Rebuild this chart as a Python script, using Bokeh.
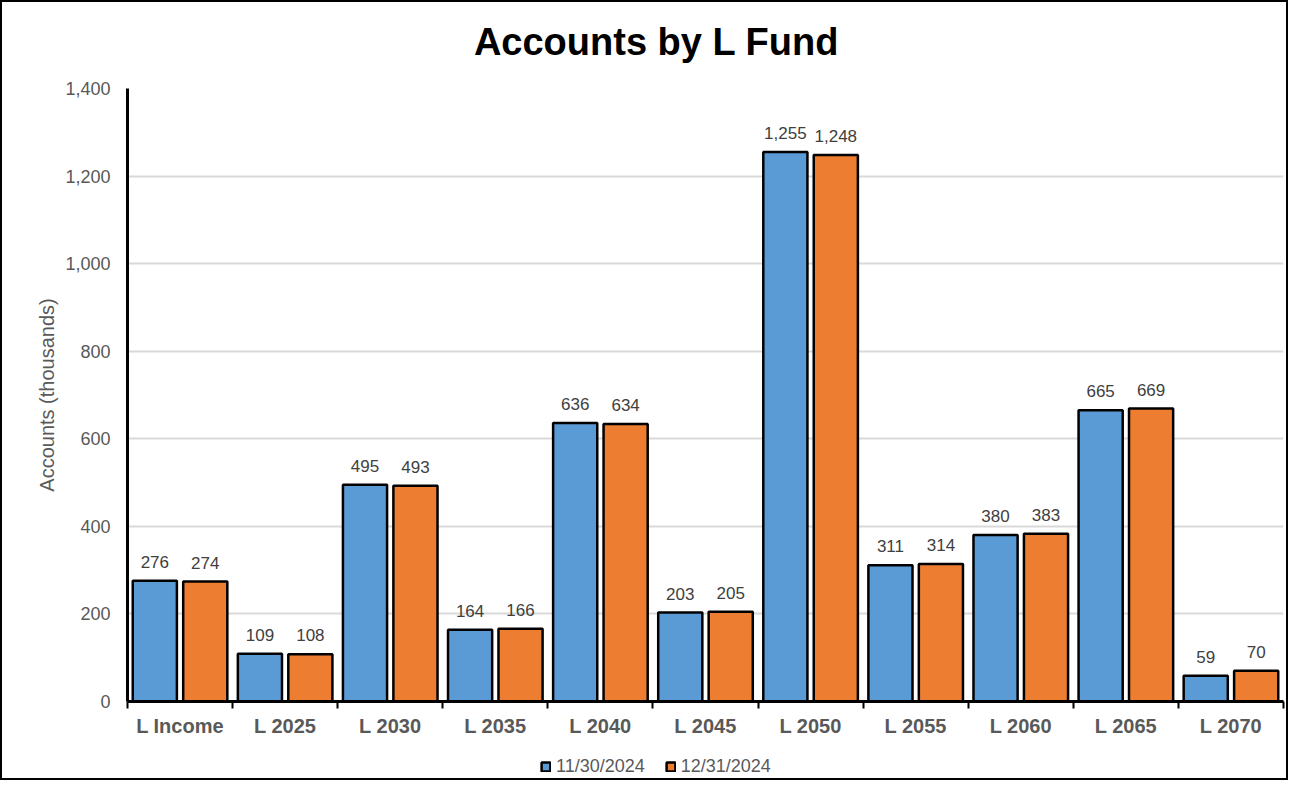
from bokeh.plotting import figure
from bokeh.layouts import column
from bokeh.models import (ColumnDataSource, Range1d, FixedTicker, NumeralTickFormatter,
                          LabelSet, Label, Legend, LegendItem)
from bokeh.core.properties import value
from bokeh.embed import file_html
from bokeh.resources import INLINE

title_text = "Accounts by L Fund"
categories = ["L Income", "L 2025", "L 2030", "L 2035", "L 2040", "L 2045",
              "L 2050", "L 2055", "L 2060", "L 2065", "L 2070"]
nov_2024 = [276, 109, 495, 164, 636, 203, 1255, 311, 380, 665, 59]
dec_2024 = [274, 108, 493, 166, 634, 205, 1248, 314, 383, 669, 70]
series_names = ["11/30/2024", "12/31/2024"]
y_ticks = [0, 200, 400, 600, 800, 1000, 1200, 1400]

BLUE = "#5B9BD5"
ORANGE = "#ED7D31"
FONT = "Liberation Sans"
GRAY = "#595959"

n = len(categories)
centers = [i + 0.5 for i in range(n)]
offset = 0.24
bar_w = 0.42

src1 = ColumnDataSource(dict(x=[c - offset for c in centers], top=nov_2024,
                             lab=[f"{v:,}" for v in nov_2024]))
src2 = ColumnDataSource(dict(x=[c + offset for c in centers], top=dec_2024,
                             lab=[f"{v:,}" for v in dec_2024]))

# title strip
tf = figure(width=1284, height=74, output_backend="svg", toolbar_location=None,
            x_range=Range1d(0, 1), y_range=Range1d(0, 1),
            x_axis_type=None, y_axis_type=None, min_border=0)
tf.outline_line_color = None
tf.grid.visible = False
tf.add_layout(Label(x=0.4576, y=0.46, text=title_text, text_align="center",
                    text_baseline="middle", text_font=FONT, text_font_size="38px",
                    text_font_style="bold", text_color="black"))

p = figure(width=1284, height=665, output_backend="svg", toolbar_location=None,
           x_range=Range1d(0, n), y_range=Range1d(0, 1400),
           min_border_left=125, min_border_right=3, min_border_top=12, min_border_bottom=40)
p.outline_line_color = None
p.background_fill_color = "white"
p.border_fill_color = "white"

r1 = p.vbar(x="x", top="top", width=bar_w, source=src1, fill_color=BLUE,
            line_color="black", line_width=2.5)
r2 = p.vbar(x="x", top="top", width=bar_w, source=src2, fill_color=ORANGE,
            line_color="black", line_width=2.5)

for s in (src1, src2):
    p.add_layout(LabelSet(x="x", y="top", text="lab", source=s, text_align="center",
                          text_baseline="alphabetic", y_offset=13, text_font=value(FONT),
                          text_font_size="17px", text_color="#404040"))

# x axis
xa = p.xaxis[0]
xa.ticker = FixedTicker(ticks=centers, minor_ticks=list(range(n + 1)))
xa.major_label_overrides = {c: cat for c, cat in zip(centers, categories)}
xa.major_tick_out = 0
xa.major_tick_in = 0
xa.minor_tick_out = 7
xa.minor_tick_in = 0
xa.minor_tick_line_color = "black"
xa.minor_tick_line_width = 2
xa.axis_line_color = "black"
xa.axis_line_width = 3
xa.major_label_text_font = FONT
xa.major_label_text_font_size = "20px"
xa.major_label_text_font_style = "bold"
xa.major_label_text_color = GRAY
xa.major_label_standoff = 6

# y axis
ya = p.yaxis[0]
ya.ticker = FixedTicker(ticks=y_ticks)
ya.formatter = NumeralTickFormatter(format="0,0")
ya.major_tick_out = 0
ya.major_tick_in = 0
ya.minor_tick_out = 0
ya.minor_tick_in = 0
ya.axis_line_color = "black"
ya.axis_line_width = 3
ya.major_label_text_font = FONT
ya.major_label_text_font_size = "18px"
ya.major_label_text_color = GRAY
ya.major_label_standoff = 17
ya.axis_label = "Accounts (thousands)"
ya.axis_label_text_font = FONT
ya.axis_label_text_font_size = "20px"
ya.axis_label_text_font_style = "normal"
ya.axis_label_text_color = GRAY
ya.axis_label_standoff = 4

p.xgrid.grid_line_color = None
p.ygrid.grid_line_color = "#D9D9D9"
p.ygrid.grid_line_width = 2

# legend strip below the chart (its key renderers are hidden; only the legend shows)
lg = figure(width=1284, height=37, output_backend="svg", toolbar_location=None,
            x_range=Range1d(100, 101), y_range=Range1d(-2, -1),
            x_axis_type=None, y_axis_type=None, min_border=0)
lg.outline_line_color = None
lg.grid.visible = False
k1 = lg.vbar(x="x", top="top", width=bar_w, source=src1,
             fill_color=BLUE, line_color="black", line_width=2.5, visible=False)
k2 = lg.vbar(x="x", top="top", width=bar_w, source=src2,
             fill_color=ORANGE, line_color="black", line_width=2.5, visible=False)
legend = Legend(items=[LegendItem(label=series_names[0], renderers=[k1]),
                       LegendItem(label=series_names[1], renderers=[k2])],
                orientation="horizontal", location=(413, 1),
                glyph_width=11, glyph_height=11, label_standoff=5, spacing=20,
                label_height=20, label_text_baseline="middle",
                label_text_font=FONT, label_text_font_size="18px", label_text_color=GRAY,
                border_line_color=None, background_fill_alpha=0, padding=0, margin=0,
                inactive_fill_alpha=0)
lg.add_layout(legend, "center")

layout = column(tf, p, lg, spacing=0,
                styles={"border": "2px solid black", "background-color": "white"})

open("out.html", "w").write(file_html(layout, INLINE))
